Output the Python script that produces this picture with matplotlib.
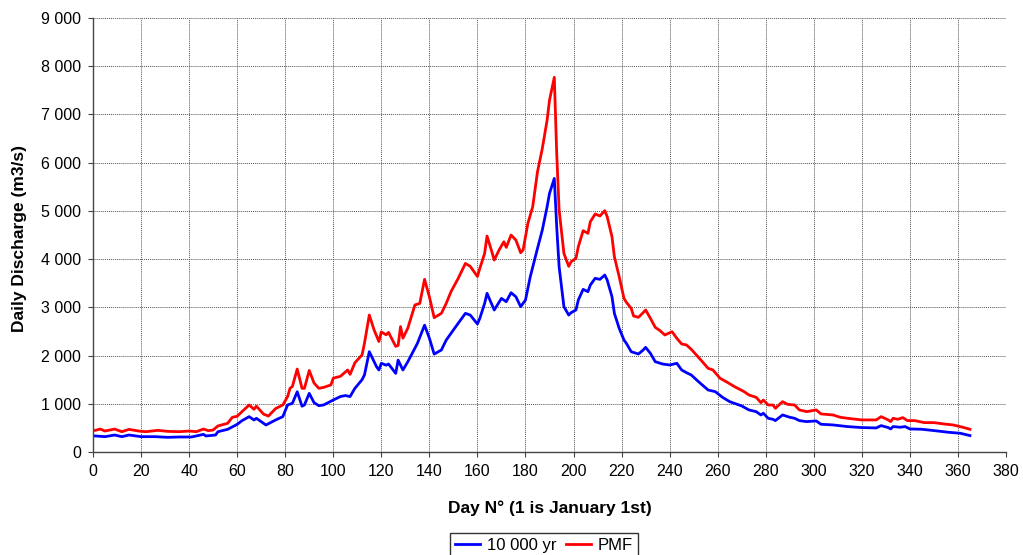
import matplotlib
matplotlib.use("Agg")
import matplotlib.pyplot as plt
from matplotlib.ticker import FuncFormatter, MultipleLocator

# PMF (red) readings: day, discharge (m3/s)
pmf_days = [1, 3, 5, 9, 12, 15, 19, 22, 27, 31, 36, 40, 43, 46, 48, 50, 52, 56, 58, 60,
            62, 65, 67, 68, 71, 73, 76, 79, 81, 82, 83, 85, 87, 88, 90, 92, 94, 96, 99, 100,
            103, 106, 107, 109, 112, 113, 115, 117, 119, 120, 122, 123, 126, 127, 128, 129, 131, 134, 136, 138,
            140, 142, 145, 147, 149, 152, 155, 157, 160, 161, 163, 164, 166, 167, 169, 171, 172, 174, 176, 178,
            179, 181, 183, 185, 187, 189, 190, 192, 193, 194, 196, 198, 199, 201, 202, 204, 206, 207, 209, 211,
            213, 214, 216, 217, 219, 221, 222, 224, 225, 227, 229, 230, 232, 234, 236, 238, 241, 243, 245, 247,
            249, 253, 256, 258, 261, 264, 267, 271, 273, 276, 278, 279, 281, 283, 284, 287, 289, 292, 294, 297,
            301, 303, 308, 311, 314, 320, 326, 328, 331, 332, 333, 335, 337, 339, 342, 346, 350, 354, 358, 362, 365]
pmf = [449, 476, 435, 476, 421, 469, 435, 421, 449, 428, 421, 435, 421, 476, 442, 456, 540, 594, 720, 740,
       836, 975, 885, 950, 785, 745, 900, 975, 1150, 1320, 1360, 1720, 1320, 1320, 1690, 1430, 1320, 1340, 1390, 1530,
       1570, 1700, 1610, 1850, 2015, 2260, 2840, 2530, 2290, 2490, 2430, 2480, 2190, 2210, 2600, 2360, 2565, 3050, 3080, 3580,
       3220, 2785, 2875, 3080, 3325, 3600, 3910, 3850, 3640, 3808, 4118, 4478, 4153, 3980, 4187, 4360, 4243, 4499, 4395, 4132,
       4187, 4740, 5085, 5810, 6293, 6880, 7295, 7770, 6190, 5018, 4118, 3850, 3946, 4016, 4258, 4590, 4534, 4776, 4935, 4894,
       5005, 4880, 4465, 4050, 3636, 3186, 3103, 2979, 2820, 2793, 2890, 2945, 2772, 2585, 2516, 2426, 2495, 2357, 2240, 2220,
       2129, 1908, 1735, 1701, 1528, 1445, 1355, 1251, 1182, 1134, 1023, 1078, 975, 975, 906, 1044, 989, 975, 872, 837,
       872, 789, 768, 720, 699, 665, 665, 733, 665, 630, 699, 678, 713, 651, 651, 609, 609, 582, 561, 513, 471]

# 10 000 yr flood (blue) readings
q10k_days = [1, 5, 9, 12, 15, 20, 26, 31, 36, 41, 46, 47, 51, 52, 56, 60, 62, 65, 67, 68,
             72, 76, 79, 81, 83, 85, 87, 88, 90, 92, 94, 96, 100, 103, 105, 107, 109, 112, 113, 115,
             118, 119, 120, 122, 123, 126, 127, 129, 131, 135, 138, 140, 142, 145, 147, 151, 155, 157, 160, 161,
             163, 164, 167, 170, 172, 174, 176, 178, 180, 182, 185, 187, 189, 190, 192, 193, 194, 196, 198, 199,
             201, 202, 204, 206, 207, 209, 211, 213, 214, 216, 217, 219, 221, 222, 224, 227, 229, 230, 232, 234,
             237, 240, 243, 245, 247, 249, 252, 256, 259, 262, 265, 270, 273, 276, 278, 279, 281, 283, 284, 287,
             290, 292, 294, 297, 301, 303, 308, 314, 320, 326, 328, 331, 332, 333, 336, 338, 340, 345, 350, 356, 361, 365]
q10k = [332, 318, 352, 318, 352, 318, 318, 304, 311, 311, 366, 332, 352, 421, 469, 573, 649, 733, 664, 698,
        560, 664, 733, 975, 1010, 1250, 950, 975, 1216, 1023, 960, 975, 1078, 1150, 1170, 1150, 1320, 1500, 1600, 2080,
        1770, 1700, 1840, 1800, 1825, 1630, 1905, 1700, 1870, 2250, 2630, 2360, 2030, 2115, 2320, 2600, 2875, 2840, 2655, 2771,
        3082, 3290, 2944, 3186, 3117, 3303, 3220, 3013, 3151, 3636, 4222, 4602, 5085, 5362, 5673, 4671, 3842, 3013, 2840, 2890,
        2945, 3152, 3373, 3325, 3463, 3601, 3580, 3670, 3567, 3221, 2876, 2564, 2322, 2253, 2080, 2032, 2115, 2170, 2046, 1873,
        1825, 1804, 1839, 1701, 1645, 1597, 1459, 1286, 1251, 1134, 1044, 955, 872, 837, 768, 803, 699, 678, 651, 768,
        720, 699, 651, 630, 644, 575, 561, 527, 506, 499, 547, 506, 478, 527, 513, 527, 478, 471, 444, 409, 388, 340]

x_ticks = list(range(0, 381, 20))
y_max = 9000

plt.rcParams['font.family'] = ['Liberation Sans', 'DejaVu Sans']

fig = plt.figure(figsize=(10.23, 5.55), dpi=100)
ax = fig.add_axes([0.0909, 0.1856, 0.8925, 0.782])

ax.plot(q10k_days, q10k, color='#0000FF', lw=2.0, label='10 000 yr', solid_joinstyle='round')
ax.plot(pmf_days, pmf, color='#FF0000', lw=2.0, label='PMF', solid_joinstyle='round')

ax.set_xlim(0, 380)
ax.set_ylim(0, y_max)
ax.set_xticks(x_ticks)
ax.yaxis.set_major_locator(MultipleLocator(1000))
ax.yaxis.set_major_formatter(FuncFormatter(lambda v, p: f"{int(v):,}".replace(",", " ")))

ax.grid(True, color='#555555', linestyle=(0, (1, 1)), lw=0.7)
ax.set_axisbelow(True)
for s in ['top', 'right']:
    ax.spines[s].set_visible(False)
for s in ['left', 'bottom']:
    ax.spines[s].set_color('#444444')
    ax.spines[s].set_linewidth(1.0)
ax.tick_params(axis='both', labelsize=11.5, length=3.6, color='#444444', direction='out', pad=5)

fig.text(0.5376, 0.0847, 'Day N° (1 is January 1st)', fontsize=12.5, fontweight='bold',
         ha='center', va='center')
fig.text(20 / 1023, 1 - 238 / 555, 'Daily Discharge (m3/s)', fontsize=12.5, fontweight='bold',
         ha='center', va='center', rotation=90)

leg = fig.legend(loc='upper center', bbox_to_anchor=(544 / 1023, 1 - 533 / 555), ncol=2, fontsize=12,
                 frameon=True, fancybox=False, edgecolor='black', handlelength=1.5,
                 handletextpad=0.4, columnspacing=0.6, borderpad=0.3, borderaxespad=0)
leg.get_frame().set_linewidth(1.0)

fig.savefig('out.png', dpi=100)
